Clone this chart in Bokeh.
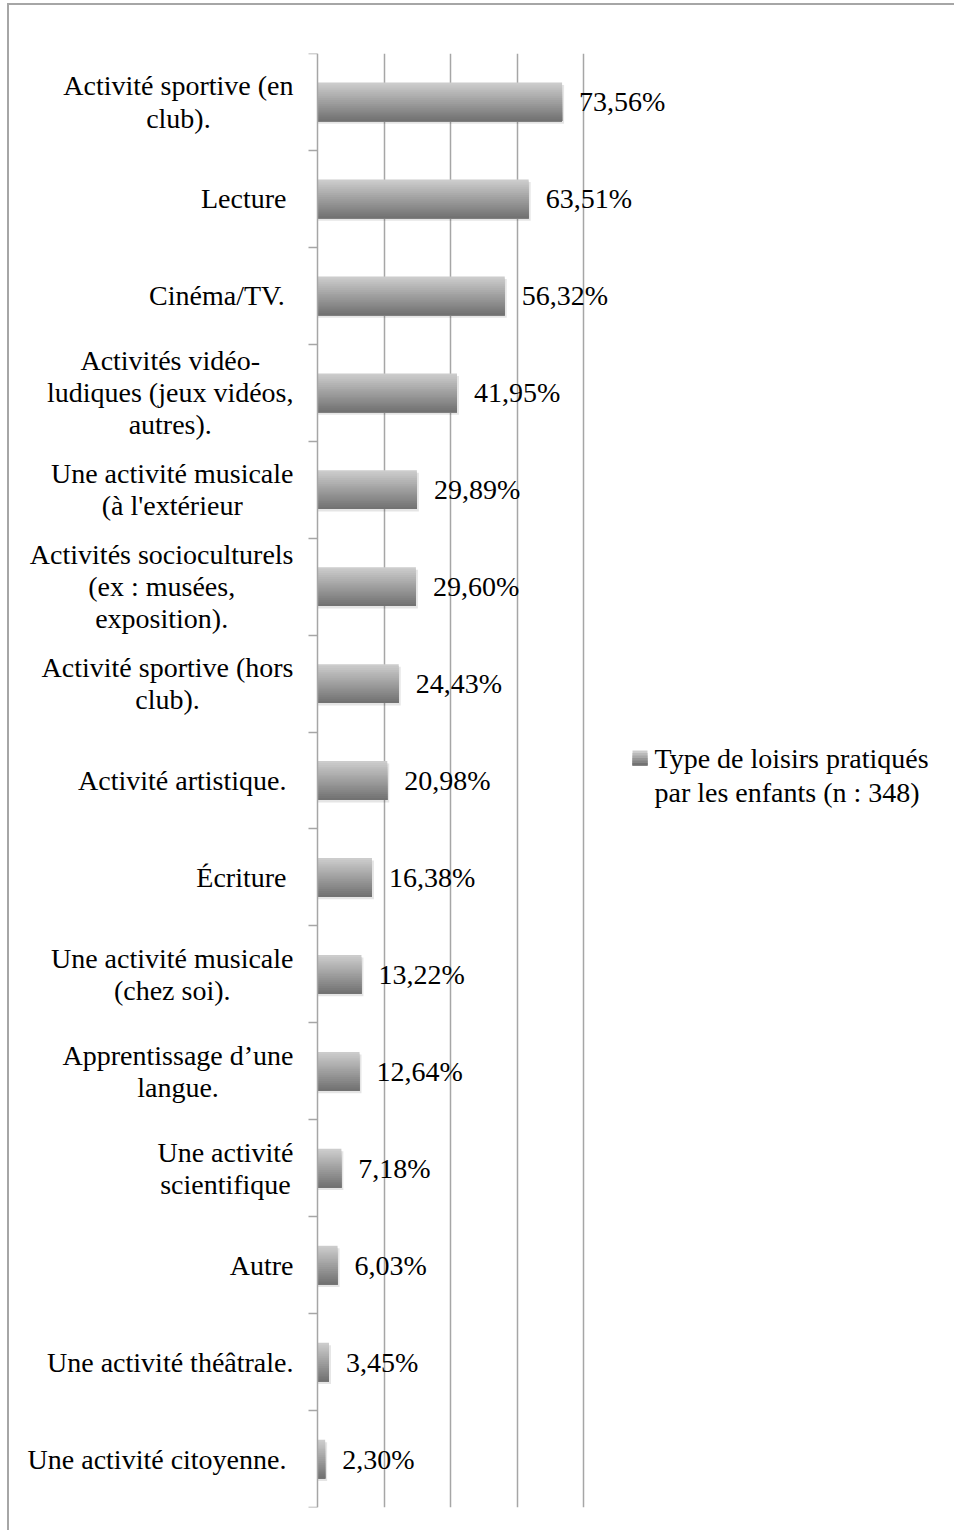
from bokeh.plotting import figure
from bokeh.models import ColumnDataSource, Range1d, FixedTicker, LinearAxis
from bokeh.core.properties import value
from bokeh.embed import file_html
from bokeh.resources import INLINE

# ---------------- data ----------------
categories = [
    "Activité sportive (en\nclub).",
    "Lecture ",
    "Cinéma/TV. ",
    "Activités vidéo-\nludiques (jeux vidéos,\nautres).",
    "Une activité musicale\n(à l'extérieur",
    "Activités socioculturels\n(ex : musées,\nexposition).",
    "Activité sportive (hors\nclub).",
    "Activité artistique. ",
    "Écriture ",
    "Une activité musicale\n(chez soi).",
    "Apprentissage d’une\nlangue.",
    "Une activité\nscientifique",
    "Autre",
    "Une activité théâtrale.",
    "Une activité citoyenne. ",
]
values = [73.56, 63.51, 56.32, 41.95, 29.89, 29.60, 24.43, 20.98,
          16.38, 13.22, 12.64, 7.18, 6.03, 3.45, 2.30]
value_labels = ["73,56%", "63,51%", "56,32%", "41,95%", "29,89%", "29,60%",
                "24,43%", "20,98%", "16,38%", "13,22%", "12,64%", "7,18%",
                "6,03%", "3,45%", "2,30%"]
grid_ticks = [20, 40, 60, 80]
legend_label = "Type de loisirs pratiqués\npar les enfants (n : 348)"

# ---------------- layout constants (page pixels) ----------------
FONT = "Liberation Serif"
FS = 28
OX, OY = 9, 5                 # canvas origin on the page
AXIS_X = 317                  # page x of the value 0
TOP_Y, BOT_Y = 53, 1507       # page y of plot top / bottom
PX = 266.0 / 80.0             # pixels per percent
N = len(categories)
FRAME_H = BOT_Y - TOP_Y
BAND = FRAME_H / N
FRAME_W = 945


def dx(page_x):
    return (page_x - AXIS_X) / PX


def dy(page_y):
    return (page_y - TOP_Y) / BAND


# Times / Liberation Serif advance widths (per 1000 em) for label centring
TW = {' ': 250, '!': 333, "'": 180, '(': 333, ')': 333, ',': 250, '-': 333,
      '.': 250, '/': 278, ':': 278, '’': 333, '%': 833}
for d in "0123456789":
    TW[d] = 500
TW.update(dict(A=722, B=667, C=667, D=722, E=611, F=556, G=722, H=722, I=333,
               J=389, K=722, L=611, M=889, N=722, O=722, P=556, Q=722, R=667,
               S=556, T=611, U=722, V=722, W=944, X=722, Y=722, Z=611))
TW.update(dict(a=444, b=500, c=444, d=500, e=444, f=333, g=500, h=500, i=278,
               j=278, k=500, l=278, m=778, n=500, o=500, p=500, q=500, r=333,
               s=389, t=278, u=500, v=500, w=722, x=500, y=500, z=444))
TW.update({'é': 444, 'è': 444, 'ê': 444, 'à': 444, 'â': 444, 'É': 611})


def text_w(s):
    return max(sum(TW.get(ch, 500) for ch in line) for line in s.split("\n")) * FS / 1000.0


x0 = dx(OX)
p = figure(frame_width=FRAME_W, frame_height=FRAME_H,
           output_backend="svg", toolbar_location=None,
           x_range=Range1d(x0, x0 + FRAME_W / PX), y_range=Range1d(N, 0),
           x_axis_location=None, y_axis_location=None,
           min_border_left=0, min_border_right=0,
           min_border_top=TOP_Y - OY, min_border_bottom=23)
p.outline_line_color = None
p.background_fill_color = "white"
p.border_fill_color = "white"
p.styles = {"border-top": "2px solid #a6a6a6", "border-left": "2px solid #a6a6a6",
            "margin-left": "7px", "margin-top": "3px"}

# grid
p.xgrid.ticker = FixedTicker(ticks=grid_ticks)
p.xgrid.grid_line_color = "#a6a6a6"
p.xgrid.grid_line_width = 1.5
p.ygrid.grid_line_color = None

# category axis (band boundaries), placed at value 0
yax = LinearAxis(fixed_location=0, ticker=FixedTicker(ticks=list(range(N + 1))))
yax.axis_line_color = "#a6a6a6"
yax.axis_line_width = 1.5
yax.major_tick_line_color = "#a6a6a6"
yax.major_tick_line_width = 1.5
yax.major_tick_in = 9
yax.major_tick_out = 0
yax.minor_tick_line_color = None
yax.major_label_text_color = None
yax.major_label_text_font_size = "1px"
yax.major_label_standoff = 0
p.add_layout(yax, "right")

ys = [i + 0.5 for i in range(N)]
bar_h = 0.40

# soft shadow
shadow = ColumnDataSource(dict(y=[y + 2.5 / BAND for y in ys],
                               right=[v + 2.0 / PX for v in values]))
p.hbar(y="y", height=bar_h, left=0, right="right", source=shadow,
       fill_color="#000000", fill_alpha=0.10, line_color=None)

# gradient bars: successive layers, each from a lower top edge down to the bar bottom
NS = 20
c_top, c_bot = (0xcc, 0xcc, 0xcc), (0x72, 0x72, 0x72)


def shade(t):
    return "#%02x%02x%02x" % tuple(int(round(a + (b - a) * t)) for a, b in zip(c_top, c_bot))


for k in range(NS):
    top_off = bar_h * k / NS
    hh = bar_h - top_off
    src = ColumnDataSource(dict(y=[y - bar_h / 2 + top_off + hh / 2 for y in ys],
                                right=values))
    p.hbar(y="y", height=hh, left=0, right="right", source=src,
           fill_color=shade(k / (NS - 1)), line_color=None)

# value labels
vsrc = ColumnDataSource(dict(x=values, y=ys, t=value_labels))
p.text(x="x", y="y", text="t", source=vsrc, x_offset=17,
       text_align="left", text_baseline="middle",
       text_font=value(FONT), text_font_size=f"{FS}px", text_color="#000000")

# category labels (lines centred, block right edge left of the axis)
RIGHT_GAP = 24
cx = [-(RIGHT_GAP + text_w(c) / 2.0) / PX for c in categories]
csrc = ColumnDataSource(dict(x=cx, y=ys, t=categories))
p.text(x="x", y="y", text="t", source=csrc,
       text_align="center", text_baseline="middle",
       text_font=value(FONT), text_font_size=f"{FS}px",
       text_line_height=1.04, text_color="#000000")

# legend (manual)
SW = 15
for k in range(6):
    off = SW * k / 6
    hh = SW - off
    p.rect(x=[dx(639.5)], y=[dy(750 + off + hh / 2)], width=SW, height=hh,
           width_units="screen", height_units="screen",
           fill_color=shade(k / 5), line_color=None)
p.text(x=[dx(654)], y=[dy(775)], text=[legend_label], text_align="left",
       text_baseline="middle", text_font=value(FONT), text_font_size=f"{FS}px",
       text_line_height=1.07, text_color="#000000")

open("out.html", "w").write(file_html(p, INLINE))
